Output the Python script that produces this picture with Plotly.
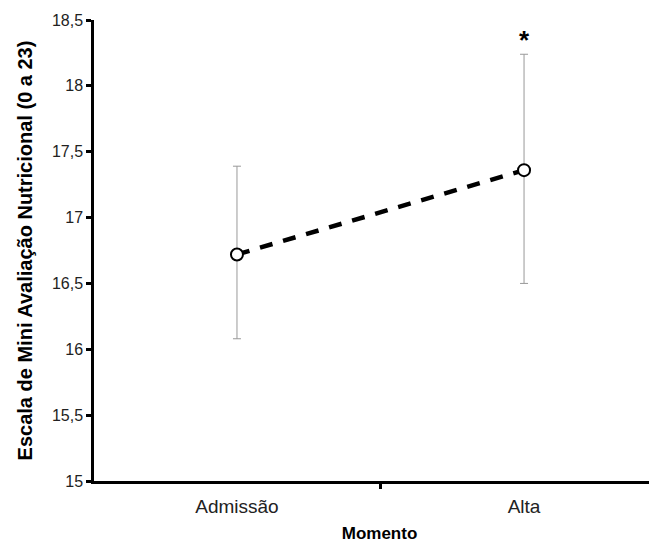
import plotly.graph_objects as go

categories = ["Admissão", "Alta"]
means = [16.72, 17.36]
upper = [17.39, 18.24]
lower = [16.08, 16.50]
y_ticks = [15, 15.5, 16, 16.5, 17, 17.5, 18, 18.5]
y_ticktext = ["15", "15,5", "16", "16,5", "17", "17,5", "18", "18,5"]
star_y = 18.35

xpos = list(range(len(categories)))
err_plus = [u - m for u, m in zip(upper, means)]
err_minus = [m - l for m, l in zip(means, lower)]

font_main = "Liberation Sans, Arial, sans-serif"

fig = go.Figure()
fig.add_trace(go.Scatter(
    x=xpos, y=means, mode="lines",
    line=dict(color="black", width=4.5, dash="13px,11px"),
    showlegend=False, hoverinfo="skip"))
fig.add_trace(go.Scatter(
    x=xpos, y=means, mode="markers",
    marker=dict(symbol="circle", size=12, color="white",
                line=dict(color="black", width=2)),
    error_y=dict(type="data", symmetric=False, array=err_plus,
                 arrayminus=err_minus, color="#999999", thickness=1, width=4),
    showlegend=False))

fig.add_annotation(x=1, y=star_y, text="<b>*</b>", showarrow=False,
                   font=dict(size=26, color="black", family=font_main))

fig.update_layout(
    width=657, height=543,
    margin=dict(l=86, r=0, t=12, b=70),
    paper_bgcolor="white", plot_bgcolor="white",
    font=dict(family=font_main, color="black"),
    xaxis=dict(
        range=[-0.498, 1.491], tickvals=xpos, ticktext=categories,
        ticks="", showgrid=False, zeroline=False,
        showline=True, linecolor="black", linewidth=2.5,
        tickfont=dict(size=19, color="#222222"),
        ticklabelstandoff=6,
        minor=dict(tickvals=[-0.5, 0.5, 1.5], ticks="outside", ticklen=5,
                   tickwidth=2.5, tickcolor="black"),
        title=dict(text="<b>Momento</b>", font=dict(size=17), standoff=12),
    ),
    yaxis=dict(
        range=[15, 18.5], tickvals=y_ticks, ticktext=y_ticktext,
        ticks="outside", ticklen=5, tickwidth=2.5, tickcolor="black",
        showgrid=False, zeroline=False,
        showline=True, linecolor="black", linewidth=2.5,
        tickfont=dict(size=16, color="#222222"),
        title=dict(text="<b>Escala de Mini Avaliação Nutricional (0 a 23)</b>",
                   font=dict(size=20), standoff=14),
    ),
)

fig.write_html("out.html")
